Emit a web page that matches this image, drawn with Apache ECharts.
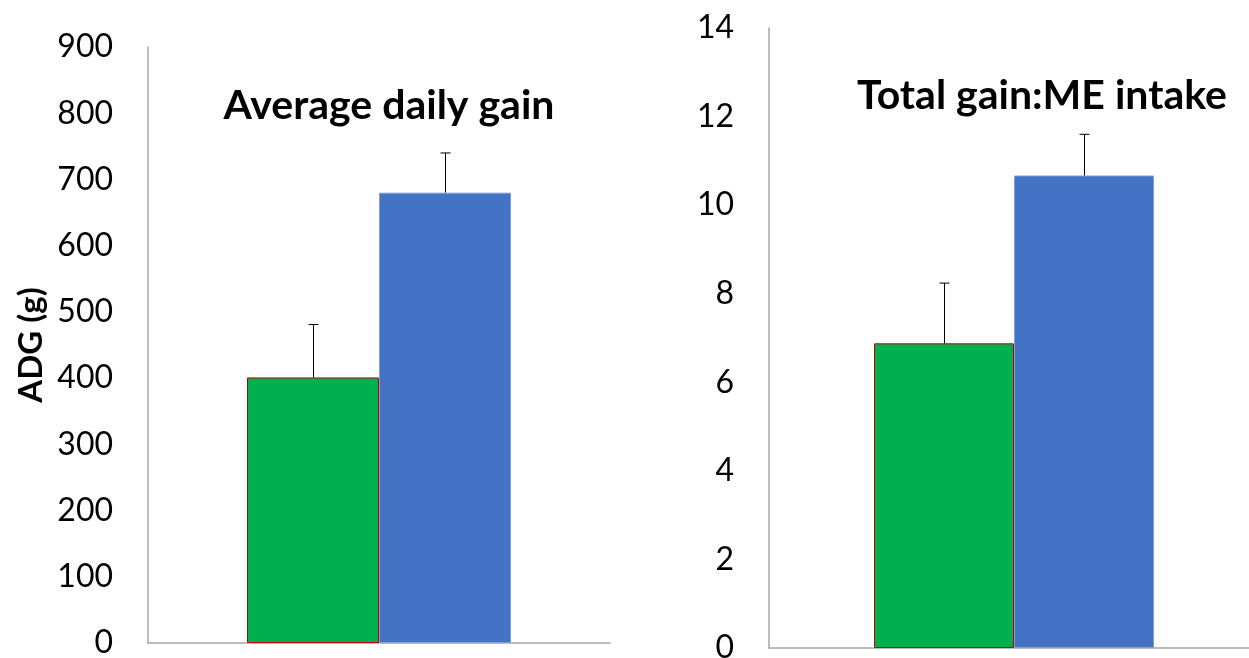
<!DOCTYPE html>
<html>
<head>
<meta charset="utf-8">
<script src="https://cdn.jsdelivr.net/npm/echarts@6/dist/echarts.min.js"></script>
<style>
  html, body { margin: 0; padding: 0; background: #fff; }
  #main { width: 1249px; height: 658px; }
</style>
</head>
<body>
<div id="main"></div>
<script>
// data
const categories = [''];
const adgTicks = [0, 900, 100];      // min, max, step
const adgGreen = [401];
const adgBlue = [680];
const adgGreenErr = [80];
const adgBlueErr = [60];

const ratioTicks = [0, 14, 2];
const ratioGreen = [6.88];
const ratioBlue = [10.67];
const ratioGreenErr = [1.36];
const ratioBlueErr = [0.93];

const FONT = 'Lato';
const GREEN = '#00B050';
const BLUE = '#4472C4';

// error bar (upper arm + cap), shifted to sit on the left or right bar
function errorSeries(gridIdx, means, errs, side, barW) {
  return {
    type: 'custom',
    xAxisIndex: gridIdx,
    yAxisIndex: gridIdx,
    silent: true,
    z: 5,
    data: means.map((m, i) => [i, m, m + errs[i]]),
    renderItem: function (params, api) {
      const lo = api.coord([api.value(0), api.value(1)]);
      const hi = api.coord([api.value(0), api.value(2)]);
      const x = Math.round(lo[0] + side * barW / 2) + 0.5;
      return {
        type: 'group',
        children: [
          { type: 'line', shape: { x1: x, y1: lo[1], x2: x, y2: hi[1] },
            style: { stroke: '#000', lineWidth: 1 } },
          { type: 'line', shape: { x1: x - 5, y1: hi[1], x2: x + 5, y2: hi[1] },
            style: { stroke: '#000', lineWidth: 1 } }
        ]
      };
    }
  };
}

function yAxisOpt(gridIdx, ticks, name) {
  return {
    type: 'value',
    gridIndex: gridIdx,
    min: ticks[0], max: ticks[1], interval: ticks[2],
    name: name,
    nameLocation: 'middle',
    nameRotate: 90,
    nameGap: 100,
    nameTextStyle: { fontFamily: FONT, fontWeight: 'bold', fontSize: 33, color: '#000' },
    axisLine: { show: true, lineStyle: { color: '#A6A6A6', width: 1.5 } },
    axisTick: { show: false },
    splitLine: { show: false },
    axisLabel: { fontFamily: FONT, fontSize: 32, color: '#000', margin: 35 }
  };
}

function xAxisOpt(gridIdx) {
  return {
    type: 'category',
    gridIndex: gridIdx,
    data: categories,
    axisLine: { lineStyle: { color: '#A6A6A6', width: 1.5 } },
    axisTick: { show: false },
    axisLabel: { show: false }
  };
}

const LEFT_BAR = 132;
const RIGHT_BAR = 140;

const option = {
  backgroundColor: '#fff',
  animation: false,
  title: [
    { text: 'Average daily gain', left: 384, top: 80, textAlign: 'center',
      textStyle: { fontFamily: FONT, fontWeight: 'bold', fontSize: 41, color: '#000' } },
    { text: 'Total gain:ME intake', left: 1037, top: 70, textAlign: 'center',
      textStyle: { fontFamily: FONT, fontWeight: 'bold', fontSize: 41, color: '#000' } }
  ],
  grid: [
    { left: 148, top: 47, width: 462, height: 596, outerBoundsMode: 'none', containLabel: false },
    { left: 769, top: 28, width: 490, height: 620, outerBoundsMode: 'none', containLabel: false }
  ],
  xAxis: [xAxisOpt(0), xAxisOpt(1)],
  yAxis: [yAxisOpt(0, adgTicks, 'ADG (g)'), yAxisOpt(1, ratioTicks, '')],
  series: [
    { type: 'bar', xAxisIndex: 0, yAxisIndex: 0, data: adgGreen, barWidth: LEFT_BAR, barGap: '0%',
      itemStyle: { color: GREEN, borderColor: '#C00000', borderWidth: 1 } },
    { type: 'bar', xAxisIndex: 0, yAxisIndex: 0, data: adgBlue, barWidth: LEFT_BAR, barGap: '0%',
      itemStyle: { color: BLUE, borderColor: '#7F9FDA', borderWidth: 1 } },
    { type: 'bar', xAxisIndex: 1, yAxisIndex: 1, data: ratioGreen, barWidth: RIGHT_BAR, barGap: '0%',
      itemStyle: { color: GREEN, borderColor: '#C00000', borderWidth: 1 } },
    { type: 'bar', xAxisIndex: 1, yAxisIndex: 1, data: ratioBlue, barWidth: RIGHT_BAR, barGap: '0%',
      itemStyle: { color: BLUE, borderColor: '#7F9FDA', borderWidth: 1 } },
    errorSeries(0, adgGreen, adgGreenErr, -1, LEFT_BAR),
    errorSeries(0, adgBlue, adgBlueErr, 1, LEFT_BAR),
    errorSeries(1, ratioGreen, ratioGreenErr, -1, RIGHT_BAR),
    errorSeries(1, ratioBlue, ratioBlueErr, 1, RIGHT_BAR)
  ]
};

const chart = echarts.init(document.getElementById('main'), null, { renderer: 'canvas' });
chart.setOption(option);
</script>
</body>
</html>
